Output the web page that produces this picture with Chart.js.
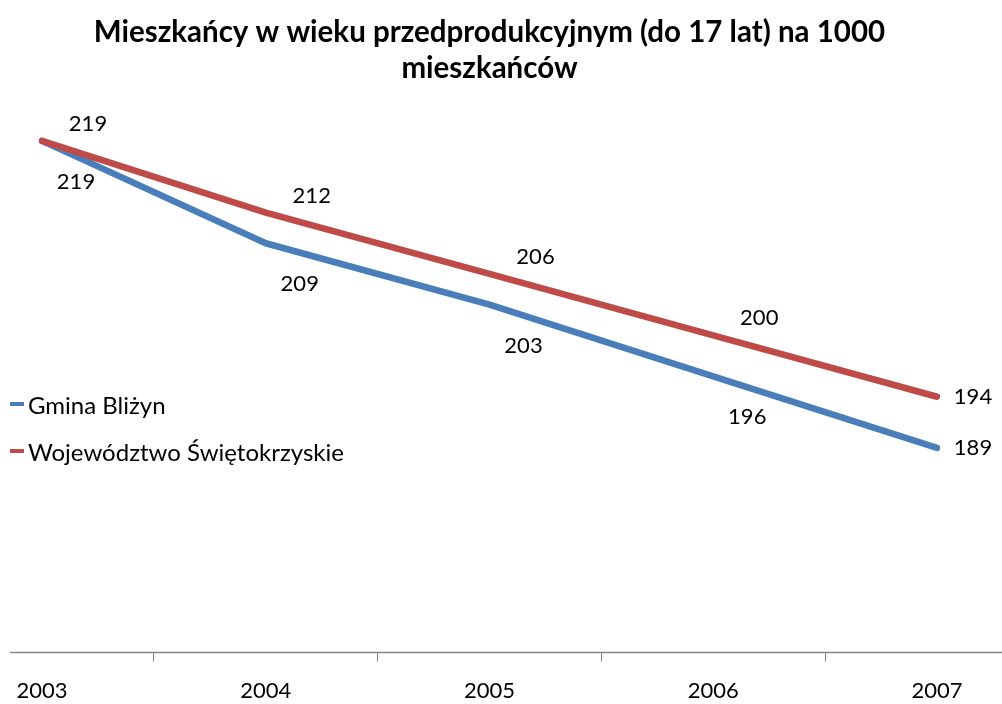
<!DOCTYPE html>
<html>
<head>
<meta charset="utf-8">
<script src="https://cdn.jsdelivr.net/npm/chart.js@4/dist/chart.umd.min.js"></script>
<style>
  html, body { margin: 0; padding: 0; background: #fff; }
  #wrap { position: relative; width: 1002px; height: 704px; }
  #legend { position: absolute; left: 10px; top: 389px; font: 24px Lato, sans-serif; color: #000; }
  #legend .item { display: flex; align-items: center; height: 30px; margin-bottom: 17px; white-space: nowrap; }
  #legend .sw { width: 14px; height: 4px; margin-right: 4px; }
</style>
</head>
<body>
<div id="wrap">
  <canvas id="c" width="1002" height="704"></canvas>
  <div id="legend"></div>
</div>
<script>
// dane
const years = ['2003', '2004', '2005', '2006', '2007'];
const gminaBlizyn = [219, 209, 203, 196, 189];
const wojSwietokrzyskie = [219, 212, 206, 200, 194];
const seriesNames = ['Gmina Bliżyn', 'Województwo Świętokrzyskie'];
const seriesColors = ['#4A7EBB', '#BE4B48'];
const titleLines = ['Mieszkańcy w wieku przedprodukcyjnym (do 17 lat) na 1000', 'mieszkańców'];

const FONT = 'Lato, sans-serif';
const AXIS = '#868686';

// etykiety wartości przy punktach
const valueLabels = {
  id: 'valueLabels',
  afterDatasetsDraw(chart, args, opts) {
    const { ctx } = chart;
    ctx.save();
    ctx.font = '22px ' + FONT;
    ctx.fillStyle = '#000';
    ctx.textAlign = 'center';
    ctx.textBaseline = 'middle';
    chart.data.datasets.forEach((ds, i) => {
      const meta = chart.getDatasetMeta(i);
      const off = opts.offsets[i];
      meta.data.forEach((pt, j) => {
        const last = j === meta.data.length - 1;
        const dx = last ? opts.lastDx : off[0];
        const dy = last ? 0 : off[1];
        ctx.fillText(String(ds.data[j]), pt.x + dx, pt.y + dy);
      });
    });
    ctx.restore();
  }
};

// oś X przedłużona jak w Excelu
const axisLine = {
  id: 'axisLine',
  afterDraw(chart) {
    const { ctx, chartArea } = chart;
    ctx.save();
    ctx.strokeStyle = AXIS;
    ctx.lineWidth = 1.5;
    ctx.beginPath();
    ctx.moveTo(10, chartArea.bottom);
    ctx.lineTo(chart.width, chartArea.bottom);
    ctx.stroke();
    ctx.restore();
  }
};

const chart = new Chart(document.getElementById('c'), {
  type: 'line',
  data: {
    labels: years,
    datasets: [
      { label: seriesNames[0], data: gminaBlizyn, borderColor: seriesColors[0], order: 1 },
      { label: seriesNames[1], data: wojSwietokrzyskie, borderColor: seriesColors[1], order: 0 }
    ]
  },
  options: {
    responsive: false,
    animation: false,
    layout: { padding: { left: 42, right: 65, top: 0, bottom: -16 } },
    elements: {
      line: { borderWidth: 6.5, tension: 0, borderCapStyle: 'round', borderJoinStyle: 'round', fill: false },
      point: { radius: 0, hoverRadius: 0 }
    },
    plugins: {
      legend: { display: false },
      tooltip: { enabled: false },
      title: {
        display: true,
        text: titleLines,
        color: '#000',
        font: { family: FONT, size: 29.5, weight: 'bold', lineHeight: 1.22 },
        padding: { top: 14, bottom: 14 }
      },
      valueLabels: { offsets: [[34, 41], [46, -17]], lastDx: 36 }
    },
    scales: {
      x: {
        offset: false,
        border: { display: false },
        grid: { offset: true, drawOnChartArea: false, drawTicks: true, tickLength: 9, color: AXIS, lineWidth: 1 },
        ticks: { color: '#000', font: { family: FONT, size: 22 }, padding: 16, maxRotation: 0, autoSkip: false }
      },
      y: { display: false, min: 169, max: 223 }
    }
  },
  plugins: [valueLabels, axisLine]
});

// legenda
const legend = document.getElementById('legend');
seriesNames.forEach((name, i) => {
  const it = document.createElement('div');
  it.className = 'item';
  it.innerHTML = `<span class="sw" style="background:${seriesColors[i]}"></span><span>${name}</span>`;
  legend.appendChild(it);
});
</script>
</body>
</html>
